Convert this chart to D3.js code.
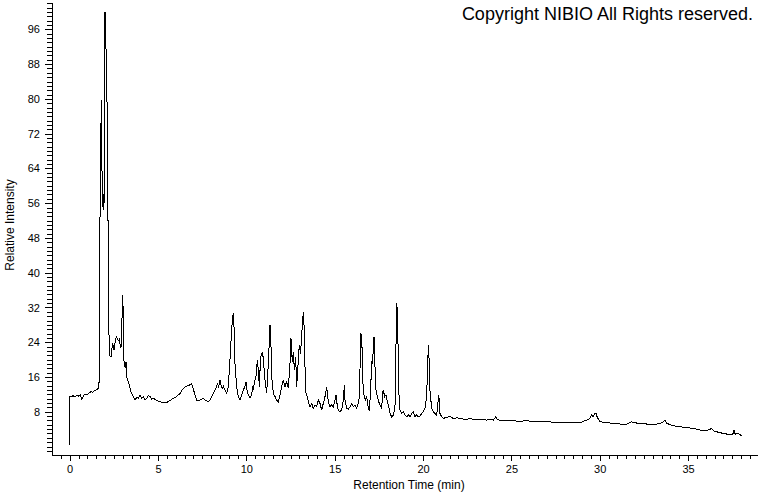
<!DOCTYPE html>
<html>
<head>
<meta charset="utf-8">
<script src="https://d3js.org/d3.v7.min.js"></script>
<style>
body { margin: 0; background: #fff; }
#chart { width: 760px; height: 492px; }
text { font-family: "Liberation Sans", Arial, sans-serif; }
</style>
</head>
<body>
<div id="chart"></div>
<script>
// retention time (min) and relative intensity
var retentionTime = [
    0, 0, 0.1, 0.2, 0.3, 0.4, 0.5, 0.6, 0.68, 0.8, 0.9, 1.0, 1.1, 1.2, 1.3, 1.4, 1.5, 1.6,
    1.65, 1.68, 1.71, 1.735, 1.76, 1.79, 1.82, 1.86, 1.89, 1.93, 1.97, 2.0, 2.03, 2.056, 2.09,
    2.13, 2.14, 2.19, 2.21, 2.245, 2.34, 2.43, 2.51, 2.6, 2.66, 2.75, 2.81, 2.886, 2.943, 2.98,
    3.018, 3.037, 3.094, 3.15, 3.188, 3.226, 3.32, 3.377, 3.47, 3.6, 3.7, 3.79, 3.89, 3.98,
    4.07, 4.17, 4.26, 4.36, 4.45, 4.546, 4.64, 4.73, 4.923, 5.11, 5.3, 5.49, 5.68, 5.867,
    6.05, 6.24, 6.43, 6.62, 6.81, 6.905, 6.96, 7.093, 7.187, 7.28, 7.47, 7.57, 7.66, 7.85,
    7.94, 8.13, 8.225, 8.32, 8.376, 8.43, 8.508, 8.564, 8.64, 8.696, 8.79, 8.885, 8.98, 9.07,
    9.168, 9.225, 9.262, 9.3, 9.357, 9.45, 9.545, 9.64, 9.734, 9.828, 9.922, 9.98, 10.017,
    10.11, 10.205, 10.3, 10.356, 10.394, 10.49, 10.545, 10.62, 10.696, 10.73, 10.81, 10.92,
    11.054, 11.149, 11.243, 11.337, 11.394, 11.45, 11.526, 11.62, 11.715, 11.81, 11.903,
    11.998, 12.09, 12.186, 12.28, 12.375, 12.469, 12.526, 12.6, 12.658, 12.714, 12.79, 12.846,
    12.94, 12.997, 13.07, 13.13, 13.223, 13.26, 13.318, 13.375, 13.45, 13.507, 13.6, 13.695,
    13.79, 13.884, 13.978, 14.073, 14.167, 14.26, 14.356, 14.45, 14.545, 14.58, 14.638,
    14.733, 14.827, 14.92, 15.016, 15.072, 15.11, 15.2, 15.3, 15.394, 15.488, 15.545, 15.58,
    15.676, 15.77, 15.865, 15.96, 16.053, 16.148, 16.242, 16.336, 16.393, 16.43, 16.487,
    16.544, 16.58, 16.657, 16.73, 16.808, 16.902, 16.96, 17.034, 17.09, 17.148, 17.185,
    17.223, 17.28, 17.336, 17.412, 17.487, 17.563, 17.657, 17.714, 17.75, 17.827, 17.9,
    17.977, 18.053, 18.13, 18.223, 18.317, 18.41, 18.468, 18.506, 18.543, 18.58, 18.62,
    18.695, 18.79, 18.883, 18.98, 19.072, 19.17, 19.26, 19.36, 19.45, 19.54, 19.637, 19.73,
    19.826, 19.92, 20.015, 20.11, 20.2, 20.26, 20.3, 20.335, 20.39, 20.487, 20.58, 20.68,
    20.77, 20.826, 20.88, 20.92, 20.958, 21.05, 21.146, 21.335, 21.524, 21.712, 21.9, 22.09,
    22.28, 22.467, 22.65, 22.844, 23.03, 23.22, 23.41, 23.6, 23.8, 23.977, 24.127, 24.2,
    24.37, 24.54, 24.8, 25.108, 25.3, 25.486, 25.68, 25.863, 26.15, 26.43, 26.7, 26.995,
    27.4, 27.75, 28.127, 28.5, 28.88, 29.26, 29.447, 29.54, 29.636, 29.73, 29.787, 29.86,
    30.01, 30.39, 30.768, 31.145, 31.52, 31.805, 31.9, 32.277, 32.654, 33.03, 33.41, 33.6,
    33.692, 33.786, 34.163, 34.54, 34.918, 35.295, 35.672, 36.05, 36.238, 36.33, 36.427,
    36.8, 37.18, 37.465, 37.56, 37.6, 37.67, 37.84, 38.03
];
var relIntensity = [
    0.3, 11.6, 11.5, 11.7, 11.4, 11.8, 11.6, 11.9, 10.9, 11.8, 12.0, 11.9, 12.3, 12.6, 12.5, 12.9, 13.0, 13.3,
    13.5, 17.0, 43.0, 74.4, 64.0, 79.7, 64.4, 61.0, 54.4, 58.0, 56.0, 100.0, 98.0, 92.0, 79.7,
    79.0, 52.0, 52.0, 30.0, 21.0, 20.7, 23.8, 22.3, 24.7, 25.2, 24.3, 24.7, 22.7, 23.4, 34.9,
    33.0, 20.7, 19.2, 18.0, 19.5, 16.1, 14.9, 14.2, 12.6, 11.5, 10.7, 11.3, 11.1, 11.85,
    11.1, 11.5, 10.7, 11.1, 11.7, 11.5, 10.9, 11.1, 10.6, 10.3, 10.1, 10.1, 10.6, 11.1,
    11.5, 12.2, 13.4, 13.9, 14.2, 14.4, 13.8, 11.85, 10.7, 10.55, 10.86, 11.1, 10.7, 10.3,
    10.7, 12.24, 13.0, 13.9, 14.5, 13.8, 15.3, 14.2, 13.4, 13.9, 13.0, 12.24, 13.8, 19.9,
    26.8, 29.9, 30.65, 27.6, 19.1, 13.8, 11.5, 10.7, 11.85, 13.0, 13.8, 14.9, 13.4,
    11.85, 11.3, 11.85, 13.8, 13.4, 15.3, 16.1, 19.9, 16.8, 13.8, 20.7, 21.8,
    15.3, 12.24, 19.1, 28.0, 23.0, 15.3, 12.24, 11.5, 10.7, 10.3, 11.85,
    13.8, 15.3, 13.8, 14.9, 13.4, 19.1, 24.9, 19.5, 21.8, 17.6, 20.7, 13.8,
    19.9, 23.4, 21.4, 25.7, 31.0, 28.35, 18.4, 12.24, 11.47, 10.32, 9.17, 9.93,
    8.78, 9.55, 9.17, 10.7, 9.93, 8.4, 9.93, 11.47, 13.77, 12.24, 10.32,
    9.17, 9.55, 9.17, 10.7, 11.85, 10.32, 8.4, 8.02, 8.4, 10.7, 14.15, 10.7,
    8.78, 8.55, 9.17, 9.93, 9.17, 9.55, 8.78, 9.93, 11.47, 17.6, 26.05,
    22.98, 15.3, 11.85, 10.7, 11.47, 8.78, 8.4, 13.0, 19.52, 19.14, 22.98,
    25.28, 18.37, 13.0, 11.47, 10.32, 9.55, 8.78, 12.24, 13.0, 11.47, 11.85,
    10.32, 9.17, 7.63, 6.87, 7.25, 8.78, 22.98, 33.1, 31.4, 24.5, 13.0,
    8.4, 7.63, 8.02, 7.25, 6.87, 7.25, 6.87, 7.63, 8.02, 6.87, 7.25, 6.87,
    7.02, 7.63, 8.02, 8.78, 11.47, 18.37, 23.36, 20.67, 13.0, 8.78, 8.02, 7.63,
    7.25, 9.17, 11.85, 10.7, 7.63, 6.87, 6.48, 6.72, 6.87, 6.48, 6.6, 6.48,
    6.3, 6.25, 6.4, 6.3, 6.2, 6.25, 6.15, 6.1, 6.2, 6.1, 6.87, 6.25,
    6.0, 5.95, 6.0, 5.95, 5.85, 5.72, 5.9, 5.95, 5.8, 5.72, 5.75, 5.72,
    5.6, 5.56, 5.49, 5.56, 5.49, 6.1, 6.48, 7.25, 6.87, 7.63, 7.63, 6.71,
    5.72, 5.49, 5.33, 5.18, 5.1, 5.72, 5.49, 5.33, 5.18, 4.95, 5.33, 5.72,
    6.1, 5.33, 4.8, 4.56, 4.33, 4.18, 3.8, 3.64, 3.95, 4.18, 3.64,
    3.18, 2.88, 2.65, 3.03, 3.8, 2.8, 3.03, 2.42
];
var xTickLabels = [0, 5, 10, 15, 20, 25, 30, 35];
var yTickLabels = [8, 16, 24, 32, 40, 48, 56, 64, 72, 80, 88, 96];

chromatogram = function(_parentElement){
    this.parentElement = _parentElement;
    this.initVis();
};

chromatogram.prototype.initVis = function(){
    var vis = this;

    vis.margin = { top: 2, right: 3, bottom: 37, left: 52 };
    vis.width = 760 - vis.margin.left - vis.margin.right;
    vis.height = 492 - vis.margin.top - vis.margin.bottom;

    vis.root = d3.select("#" + vis.parentElement).append("svg")
        .attr("width", 760)
        .attr("height", 492);

    vis.svg = vis.root.append("g")
        .attr("transform", "translate(" + vis.margin.left + "," + vis.margin.top + ")");

    // scales
    vis.x = d3.scaleLinear().domain([-1, 38.9]).range([0, vis.width]);
    vis.y = d3.scaleLinear().domain([-1.95, 102.3]).range([vis.height, 0]);

    // minor ticks first, then labelled ones on top
    vis.svg.append("g")
        .attr("class", "x-minor")
        .attr("transform", "translate(0," + vis.height + ")")
        .call(d3.axisBottom(vis.x).tickValues(d3.range(-0.5, 38.9, 0.5))
            .tickSize(4).tickSizeOuter(0).tickFormat(""));

    vis.svg.append("g")
        .attr("class", "x-axis")
        .attr("transform", "translate(0," + vis.height + ")")
        .call(d3.axisBottom(vis.x).tickValues(xTickLabels)
            .tickSize(6).tickSizeOuter(0).tickPadding(4));

    vis.svg.append("g")
        .attr("class", "y-minor")
        .call(d3.axisLeft(vis.y).tickValues(d3.range(-1, 103, 1))
            .tickSize(5).tickSizeOuter(0).tickFormat(""));

    vis.svg.append("g")
        .attr("class", "y-axis")
        .call(d3.axisLeft(vis.y).tickValues(yTickLabels)
            .tickSize(7).tickSizeOuter(0).tickPadding(5));

    vis.svg.selectAll(".x-axis text, .y-axis text")
        .attr("font-family", "'Liberation Sans', Arial, sans-serif")
        .attr("font-size", 11)
        .attr("fill", "#000");

    vis.svg.selectAll(".domain, .tick line")
        .attr("stroke", "#000")
        .attr("shape-rendering", "crispEdges");

    // axis titles
    vis.root.append("text")
        .attr("x", 409)
        .attr("y", 489)
        .attr("text-anchor", "middle")
        .attr("font-size", 12)
        .text("Retention Time (min)");

    vis.root.append("text")
        .attr("transform", "translate(14,225) rotate(-90)")
        .attr("text-anchor", "middle")
        .attr("font-size", 12)
        .text("Relative Intensity");

    vis.root.append("text")
        .attr("x", 753)
        .attr("y", 20)
        .attr("text-anchor", "end")
        .attr("font-size", 18)
        .text("Copyright NIBIO All Rights reserved.");

    vis.updateVis();
};

chromatogram.prototype.updateVis = function(){
    var vis = this;

    var line = d3.line()
        .x(function(i){ return vis.x(retentionTime[i]); })
        .y(function(i){ return vis.y(relIntensity[i]); });

    vis.svg.append("path")
        .datum(d3.range(retentionTime.length))
        .attr("d", line)
        .attr("fill", "none")
        .attr("stroke", "#000")
        .attr("stroke-width", 1)
        .attr("shape-rendering", "crispEdges");
};

var chart = new chromatogram("chart");
</script>
</body>
</html>
